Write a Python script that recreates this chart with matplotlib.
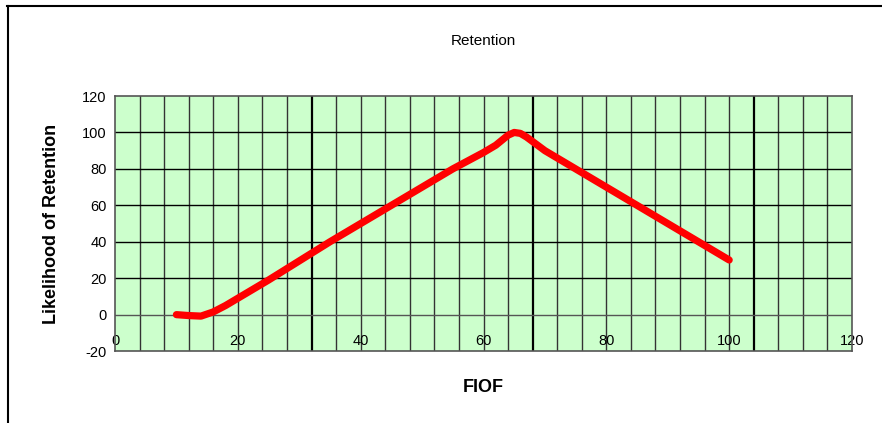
import numpy as np
import matplotlib
matplotlib.use('Agg')
import matplotlib.pyplot as plt
from matplotlib.lines import Line2D

plt.rcParams['font.family'] = ['Liberation Sans', 'DejaVu Sans']
plt.rcParams['axes.unicode_minus'] = False

# Data
fiof = [10, 12, 14, 16, 18, 20, 22, 25, 30, 35, 40, 45, 50, 55, 60, 62, 64, 65, 66, 67, 68, 70, 75, 80, 85, 90, 95, 100]
retention = [0, -0.5, -0.8, 1.5, 5, 9, 13, 19, 29.5, 40, 50, 60, 70, 80, 89, 93, 98.5, 100, 99.5, 97.5, 95, 90, 80, 70, 60, 50, 40, 30]

x_ticks = [0, 20, 40, 60, 80, 100, 120]
y_ticks = [-20, 0, 20, 40, 60, 80, 100, 120]
thick_lines = [32, 68, 104]

fig = plt.figure(figsize=(8.82, 4.23), dpi=100)
ax = fig.add_axes([0.1304, 0.170, 0.8356, 0.603])
ax.set_facecolor('#CCFFCC')

ax.set_xlim(0, 120)
ax.set_ylim(-20, 120)

# grid: vertical every 4 units, horizontal every 20
for gx in np.arange(4, 120, 4):
    if gx in thick_lines:
        ax.axvline(gx, color='black', lw=1.6, zorder=1)
    else:
        ax.axvline(gx, color='#333333', lw=1.0, zorder=1)
for gy in y_ticks[1:-1]:
    ax.axhline(gy, color='#555555' if gy == 0 else 'black', lw=1.0, zorder=1)

ax.plot(fiof, retention, color='#FF0000', lw=5.2, solid_capstyle='round',
        solid_joinstyle='round', zorder=3)

ax.set_xticks(x_ticks)
ax.set_yticks(y_ticks)
ax.tick_params(axis='both', length=0, labelsize=10.5)
ax.tick_params(axis='x', pad=-12)
ax.tick_params(axis='y', pad=6)
for lbl in ax.get_xticklabels():
    lbl.set_zorder(4)

for s in ax.spines.values():
    s.set_color('#555555')
    s.set_linewidth(1.2)

ax.set_title('Retention', fontsize=11, pad=37)
ax.set_xlabel('FIOF', fontsize=13, fontweight='bold', labelpad=20)
ax.set_ylabel('Likelihood of Retention', fontsize=13, fontweight='bold', labelpad=16)

# outer frame lines (top and left)
fig.add_artist(Line2D([7 / 882, 1], [1 - 6 / 423, 1 - 6 / 423], color='black', lw=1.5))
fig.add_artist(Line2D([8 / 882, 8 / 882], [0, 1 - 6 / 423], color='black', lw=1.5))

fig.savefig('out.png', dpi=100)
